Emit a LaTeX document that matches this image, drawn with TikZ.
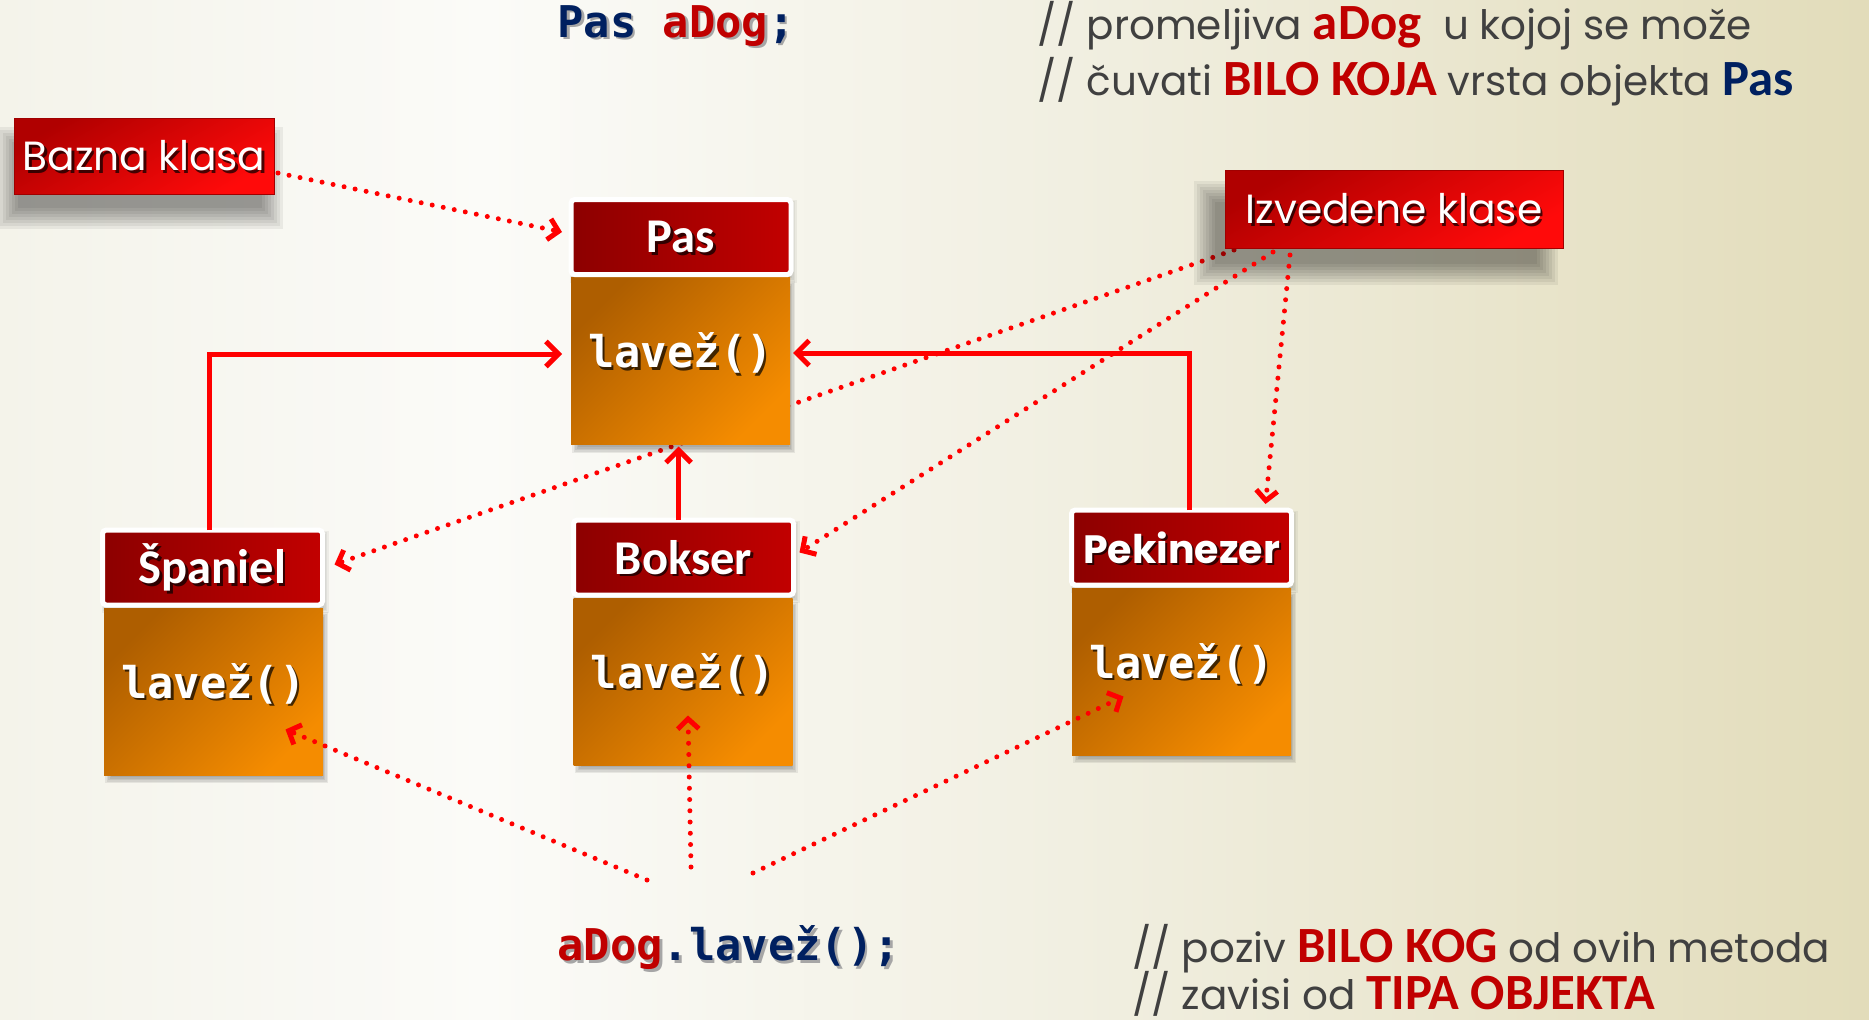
\documentclass[tikz,border=0pt]{standalone}
\usepackage{fontspec}
\setmainfont{Poppins}
\newfontfamily\calf{Carlito}
\newfontfamily\monof{DejaVu Sans Mono}
\usetikzlibrary{arrows.meta,calc}
\newdimen\U \U=0.4pt
\definecolor{navy}{HTML}{002060}
\definecolor{dred}{HTML}{C00000}
\definecolor{cgray}{HTML}{404040}
\definecolor{lred}{HTML}{FF0000}
\definecolor{hdrL}{HTML}{8C0000}
\definecolor{hdrR}{HTML}{C20000}
\definecolor{orA}{HTML}{AE5E00}
\definecolor{orB}{HTML}{F58C00}
\definecolor{tagA}{HTML}{B00000}
\definecolor{tagC}{HTML}{FF0A0A}
\definecolor{tagB}{HTML}{A00000}
\definecolor{bgA}{HTML}{F4F3EA}
\definecolor{bgB}{HTML}{FBFBF8}
\definecolor{bgC}{HTML}{F0EEDF}
\definecolor{bgD}{HTML}{E2DCBA}
\pgfdeclarehorizontalshading{bgshade}{100bp}{color(0bp)=(bgA); color(25bp)=(bgA); color(38bp)=(bgB); color(55bp)=(bgC); color(75bp)=(bgD); color(100bp)=(bgD)}
\pgfdeclarelayer{bgl}
\pgfdeclarelayer{behind}
\pgfsetlayers{bgl,behind,main}
\newcommand\hl[2]{{\calf\bfseries\fontsize{20.3}{20}\selectfont\color{#1}#2}}
% #1 base node, #2 offset, #3 name, #4 style, #5 text
\newcommand\shtxt[5]{%
  \node[#4,text=black,opacity=.7] at ($(#1)+(#2)+(2.5,-2.5)$) {#5};
  \node[#4,text=white] (#3) at ($(#1)+(#2)$) {#5};}
% soft shadow: lower-left (#1,#2), upper-right (#3,#4), step #5, steps #6, opacity #7
\newcommand\softsh[7]{%
  \foreach \k in {0,...,#6}
    \fill[black, fill opacity=#7]
      (#1-\k*#5,#2-\k*#5) rectangle (#3+\k*#5,#4+\k*#5);}
\tikzset{
  hdr/.style={draw=white, line width=2pt, outer sep=0pt, inner sep=0pt,
    minimum width=220\U, minimum height=75\U, rounded corners=1.5pt,
    left color=hdrL, right color=hdrR},
  body/.style={outer sep=0pt, inner sep=0pt, minimum width=219\U, minimum height=167\U,
    top color=orA, bottom color=orB, shading angle=45},
  tag/.style={draw=tagB, line width=0.4pt, outer sep=0pt, inner sep=0pt,
    top color=tagA, bottom color=tagC, shading angle=30},
  hdrtxt/.style={font=\calf\bfseries\fontsize{19.4}{20}\selectfont, inner sep=0pt},
  pektxt/.style={font=\bfseries\fontsize{15.8}{18}\selectfont, inner sep=0pt},
  mtxt/.style={font=\monof\bfseries\fontsize{17.5}{20}\selectfont, inner sep=0pt},
  tagtxt/.style={font=\fontsize{16.3}{18}\selectfont, inner sep=0pt},
  code/.style={font=\monof\bfseries\fontsize{17.5}{20}\selectfont, inner sep=0pt, anchor=west},
  cmt/.style={font=\fontsize{16.2}{18}\selectfont, text=cgray, inner sep=0pt, anchor=base west},
  solidarr/.style={draw=lred, line width=2pt, -{Straight Barb[length=5pt,width=10pt]}},
  dotarr/.style={draw=lred, line width=2pt, line cap=round, dash pattern=on 0pt off 4.5pt,
    -{Straight Barb[length=4pt,width=8.5pt]}},
}
\begin{document}
\begin{tikzpicture}[x=0.4pt,y=0.4pt]
\useasboundingbox (0,0) rectangle (1869,-1020);
\begin{pgfonlayer}{bgl}
\shade[shading=bgshade] (0,0) rectangle (1869,-1020);
\end{pgfonlayer}

% soft shadows (decoration)
\softsh{18}{-208}{262}{-148}{3}{7}{.06}
\softsh{1215}{-264}{1537}{-202}{3}{7}{.06}
\softsh{578}{-447}{789}{-287}{1.5}{4}{.07}
\softsh{111}{-777}{322}{-618}{1.5}{4}{.07}
\softsh{580.5}{-767}{791.5}{-608}{1.5}{4}{.07}
\softsh{1079}{-757}{1290}{-598}{1.5}{4}{.07}
\softsh{574}{-278}{792}{-204}{1.5}{3}{.05}
\softsh{106}{-608}{324}{-535}{1.5}{3}{.05}
\softsh{577}{-598}{795}{-525}{1.5}{3}{.05}
\softsh{1075}{-588}{1293}{-515}{1.5}{3}{.05}

% code and comments
\node[code,text=black!35] at (559.5,-28.5) {Pas aDog;};
\node[code] (decl) at (557,-26) {\textcolor{navy}{Pas} \textcolor{dred}{aDog}\textcolor{navy}{;}};
\node[cmt] (cm1) at (1037,-40) {// promeljiva \hl{dred}{aDog}\ \ u kojoj se može};
\node[cmt] (cm2) at (1037,-95) {// čuvati \hl{dred}{BILO KOJA} vrsta objekta \hl{navy}{Pas}};
\node[code,text=black!35] at (559.5,-950.5) {aDog.lavež();};
\node[code] (call) at (557,-948) {\textcolor{dred}{aDog}\textcolor{navy}{.lavež();}};
\node[cmt] (cm3) at (1132,-962) {// poziv \hl{dred}{BILO KOG} od ovih metoda};
\node[cmt] (cm4) at (1132,-1009) {// zavisi od \hl{dred}{TIPA OBJEKTA}};

% tags
\node[tag, minimum width=260\U, minimum height=76\U] (bazna) at (144,-156) {};
\shtxt{bazna}{0,0}{baznaT}{tagtxt}{Bazna klasa}
\node[tag, minimum width=338\U, minimum height=78\U] (izv) at (1394,-209) {};
\shtxt{izv}{0,0}{izvT}{tagtxt}{Izvedene klase}

% classes
\node[body] (pasB) at (680.5,-361) {};
\node[hdr] (pasH) at (681,-237) {};
\shtxt{pasH}{0,0}{pasT}{hdrtxt}{Pas}
\shtxt{pasB}{0,8}{pasM}{mtxt}{lavež()}

\node[body] (spB) at (213.5,-691.5) {};
\node[hdr] (spH) at (212.5,-567.5) {};
\shtxt{spH}{0,0}{spT}{hdrtxt}{Španiel}
\shtxt{spB}{0,8}{spM}{mtxt}{lavež()}

\node[body] (bkB) at (683,-681.5) {};
\node[hdr] (bkH) at (683.5,-557.5) {};
\shtxt{bkH}{0,0}{bkT}{hdrtxt}{Bokser}
\shtxt{bkB}{0,8}{bkM}{mtxt}{lavež()}

\node[body] (pkB) at (1181.5,-671.5) {};
\node[hdr] (pkH) at (1181.5,-547.5) {};
\shtxt{pkH}{0,0}{pkT}{pektxt}{Pekinezer}
\shtxt{pkB}{0,8}{pkM}{mtxt}{lavež()}

% connector behind Pas
\begin{pgfonlayer}{behind}
\draw[dotarr] ($(izv.south west)+(9,-2)$) -- ($(spH.east)+(12,3)$);
\end{pgfonlayer}

% solid inheritance arrows
\draw[solidarr] ($(spH.north)+(-3,0)$) |- ($(pasB.west)+(-9,7)$);
\draw[solidarr] ($(bkH.north)+(-5,0)$) -- ($(bkH.north |- pasB.south)+(-5,-2)$);
\draw[solidarr] ($(pkH.north)+(8,0)$) |- ($(pasB.east)+(3,8)$);

% dotted annotation arrows
\draw[dotarr] ($(bazna.east)+(4,-17)$) -- ($(pasH.west)+(-9,5)$);
\draw[dotarr] ($(izv.south west)+(48,-4)$) -- ($(bkH.east)+(6,5)$);
\draw[dotarr] ($(izv.south west)+(65,-7)$) -- ($(pkH.north)+(84,6)$);

\coordinate (c1) at (647,-880);
\coordinate (c2) at (691,-867);
\coordinate (c3) at (753,-873);
\draw[dotarr] (c1) -- ($(spB)+(72,-38)$);
\draw[dotarr] (c2) -- ($(bkB)+(5,-34)$);
\draw[dotarr] (c3) -- ($(pkB)+(-58,-25)$);
\end{tikzpicture}
\end{document}
